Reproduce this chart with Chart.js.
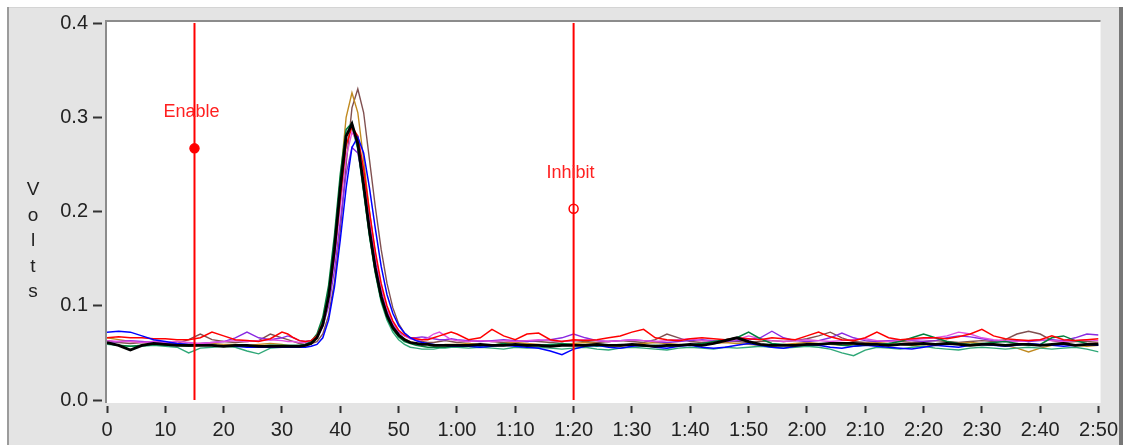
<!DOCTYPE html>
<html>
<head>
<meta charset="utf-8">
<script src="https://cdn.jsdelivr.net/npm/chart.js@4.4.0/dist/chart.umd.min.js"></script>
<style>
  html, body { margin: 0; padding: 0; background: #ffffff; }
  canvas { display: block; }
</style>
</head>
<body>
<canvas id="volts_chart" width="1123" height="445"></canvas>
<script>
// time in seconds, finer steps around the peak
const times = [
    0, 2, 4, 6, 8, 10, 12, 14, 16, 18, 20, 22, 24, 26, 28, 30,
    31, 32, 33, 34, 35, 36, 37, 38, 39, 40, 41, 42, 43, 44, 45, 46, 47, 48, 49, 50,
    51, 52, 53, 54, 55, 56, 57, 58, 59, 60,
    62, 64, 66, 68, 70, 72, 74, 76, 78, 80, 82, 84, 86, 88, 90, 92, 94, 96, 98, 100,
    102, 104, 106, 108, 110, 112, 114, 116, 118, 120, 122, 124, 126, 128, 130, 132, 134, 136, 138, 140,
    142, 144, 146, 148, 150, 152, 154, 156, 158, 160, 162, 164, 166, 168, 170
];

const black = [
    .061, .058, .053, .058, .060, .059, .058, .058, .058, .058, .057, .058, .058, .057, .057, .057,
    .057, .057, .057, .058, .060, .066, .080, .110, .160, .225, .280, .293, .272, .228, .180, .140, .110, .090, .077, .069,
    .064, .061, .060, .059, .059, .058, .058, .058, .058, .058,
    .058, .059, .058, .058, .059, .058, .058, .057, .058, .058, .058, .059, .058, .058, .059, .058, .057, .058, .058, .059,
    .058, .060, .063, .066, .062, .059, .058, .058, .058, .059, .059, .060, .060, .060, .059, .059, .058, .059, .059, .060,
    .059, .060, .059, .058, .059, .059, .058, .059, .059, .058, .059, .060, .058, .059, .059
];
const blue = [
    .072, .073, .072, .068, .064, .062, .060, .059, .058, .058, .057, .057, .056, .056, .056, .056,
    .056, .056, .056, .056, .057, .059, .066, .085, .120, .170, .225, .268, .279, .262, .225, .182, .142, .112, .092, .079,
    .071, .066, .063, .061, .060, .059, .058, .058, .057, .057,
    .057, .056, .057, .058, .057, .056, .055, .052, .048, .054, .057, .058, .056, .055, .057, .058, .056, .055, .057, .058,
    .056, .055, .056, .058, .060, .058, .056, .055, .057, .059, .058, .056, .055, .057, .058, .057, .056, .055, .054, .056,
    .058, .057, .056, .058, .059, .058, .057, .058, .060, .059, .058, .057, .058, .059, .058
];
const red = [
    .066, .067, .066, .066, .065, .065, .064, .064, .066, .072, .068, .064, .063, .062, .065, .072,
    .070, .066, .063, .062, .063, .068, .082, .110, .155, .215, .270, .290, .280, .245, .200, .158, .124, .100, .084, .074,
    .069, .066, .065, .064, .064, .066, .068, .070, .072, .070,
    .064, .066, .075, .068, .064, .070, .071, .064, .062, .064, .063, .064, .066, .068, .072, .075, .066, .064, .063, .065,
    .066, .065, .064, .066, .065, .064, .066, .065, .064, .068, .072, .067, .064, .063, .066, .072, .066, .064, .065, .066,
    .066, .065, .067, .070, .075, .068, .065, .064, .063, .064, .068, .064, .063, .064, .065
];
const green = [
    .060, .058, .057, .058, .059, .058, .058, .057, .058, .058, .057, .058, .057, .057, .058, .058,
    .058, .058, .058, .059, .062, .070, .088, .122, .175, .240, .287, .294, .268, .222, .175, .136, .106, .087, .075, .067,
    .062, .060, .058, .057, .056, .056, .056, .056, .057, .057,
    .058, .057, .058, .060, .058, .057, .058, .059, .060, .059, .058, .057, .058, .059, .058, .057, .058, .057, .058, .059,
    .060, .062, .064, .066, .072, .065, .060, .059, .058, .058, .059, .060, .058, .057, .058, .059, .060, .062, .066, .070,
    .066, .062, .060, .059, .060, .061, .062, .060, .058, .059, .066, .068, .063, .060, .059
];
const teal = [
    .059, .058, .057, .057, .058, .057, .056, .050, .055, .056, .057, .056, .052, .049, .055, .056,
    .056, .056, .057, .058, .061, .068, .085, .118, .170, .234, .280, .289, .266, .220, .173, .134, .104, .085, .072, .064,
    .059, .056, .055, .054, .054, .054, .055, .055, .056, .056,
    .055, .056, .055, .054, .056, .055, .056, .055, .054, .055, .056, .054, .053, .055, .056, .055, .054, .053, .055, .056,
    .055, .054, .056, .055, .056, .057, .056, .055, .056, .057, .056, .054, .050, .047, .053, .056, .055, .054, .056, .057,
    .055, .054, .053, .055, .056, .055, .054, .055, .056, .055, .054, .055, .056, .054, .051
];
const brown = [
    .063, .061, .060, .061, .062, .061, .060, .064, .070, .064, .062, .061, .062, .063, .070, .066,
    .064, .062, .060, .059, .060, .062, .070, .090, .125, .180, .250, .310, .330, .305, .255, .205, .160, .124, .098, .081,
    .071, .066, .063, .062, .061, .061, .062, .063, .062, .061,
    .062, .063, .062, .061, .062, .063, .062, .061, .062, .063, .062, .061, .062, .063, .062, .061, .064, .070, .066, .062,
    .061, .062, .063, .062, .061, .062, .063, .062, .063, .065, .068, .072, .066, .062, .061, .062, .063, .062, .061, .062,
    .063, .062, .061, .062, .063, .062, .064, .070, .073, .070, .063, .061, .062, .062, .061
];
const gold = [
    .066, .064, .062, .061, .060, .060, .059, .059, .060, .060, .059, .059, .058, .059, .060, .059,
    .058, .057, .057, .058, .060, .066, .080, .112, .165, .235, .300, .326, .305, .255, .200, .155, .120, .095, .080, .070,
    .065, .062, .060, .059, .059, .058, .058, .059, .059, .059,
    .060, .059, .058, .060, .061, .060, .059, .058, .059, .060, .061, .060, .058, .057, .059, .060, .061, .060, .059, .058,
    .059, .060, .061, .060, .059, .058, .057, .059, .060, .061, .060, .059, .058, .059, .060, .061, .060, .059, .058, .057,
    .058, .059, .060, .061, .060, .059, .058, .055, .051, .055, .058, .059, .058, .057, .058
];
const purple = [
    .061, .062, .063, .062, .061, .060, .060, .059, .060, .061, .062, .066, .072, .066, .064, .066,
    .068, .066, .063, .062, .063, .067, .078, .100, .138, .190, .240, .268, .262, .230, .188, .148, .116, .094, .080, .072,
    .068, .066, .066, .067, .066, .065, .064, .064, .065, .064,
    .063, .062, .063, .064, .063, .062, .063, .064, .066, .070, .066, .063, .062, .063, .064, .063, .062, .061, .062, .063,
    .064, .063, .062, .063, .064, .066, .073, .066, .063, .062, .063, .066, .071, .066, .063, .062, .063, .064, .063, .062,
    .063, .066, .068, .067, .065, .063, .062, .063, .062, .063, .064, .063, .066, .070, .069
];
const magenta = [
    .063, .062, .062, .061, .062, .061, .062, .061, .060, .061, .062, .063, .062, .063, .064, .063,
    .062, .062, .061, .061, .062, .066, .078, .104, .148, .205, .258, .284, .274, .240, .196, .154, .120, .097, .082, .073,
    .068, .065, .064, .064, .066, .070, .072, .068, .064, .063,
    .062, .063, .062, .063, .062, .063, .064, .063, .062, .063, .064, .063, .062, .063, .064, .063, .062, .063, .064, .065,
    .063, .062, .063, .064, .068, .065, .063, .062, .063, .064, .063, .062, .063, .064, .065, .063, .062, .063, .064, .065,
    .066, .068, .072, .070, .066, .064, .063, .062, .063, .064, .063, .062, .063, .064, .063
];

// cursors
const cursorNames = ["Enable", "Inhibit"];
const cursorTimes = [15, 80];
const cursorLevels = [0.267, 0.203];

const xTickLabels = ["0", "10", "20", "30", "40", "50", "1:00", "1:10", "1:20", "1:30", "1:40", "1:50",
    "2:00", "2:10", "2:20", "2:30", "2:40", "2:50"];
const yTickLabels = ["0.0", "0.1", "0.2", "0.3", "0.4"];
const yTitle = "Volts";

// first series is drawn on top
const traces = [
    { data: black, color: "#000000", width: 2.8 },
    { data: blue, color: "#0000ff", width: 1.5 },
    { data: red, color: "#ff0000", width: 1.5 },
    { data: green, color: "#00803c", width: 1.5 },
    { data: magenta, color: "#e050e0", width: 1.4 },
    { data: purple, color: "#8a2be2", width: 1.4 },
    { data: teal, color: "#30a878", width: 1.4 },
    { data: gold, color: "#c08a20", width: 1.4 },
    { data: brown, color: "#805050", width: 1.4 }
];

const tickFont = { family: "Liberation Sans, Arial, sans-serif", size: 20 };

const cursorSets = cursorTimes.map((t) => ({
    data: [{ x: t, y: 0 }, { x: t, y: 0.4 }],
    borderColor: "#ff0000",
    borderWidth: 2,
    pointRadius: 0
}));

const markerSet = {
    data: cursorTimes.map((t, i) => ({ x: t, y: cursorLevels[i] })),
    showLine: false,
    pointRadius: 4.5,
    pointBorderWidth: 1.5,
    pointBorderColor: "#ff0000",
    pointBackgroundColor: ["#ff0000", "#ffffff"]
};

const traceSets = traces.map((s) => ({
    data: times.map((t, i) => ({ x: t, y: s.data[i] })),
    borderColor: s.color,
    borderWidth: s.width,
    pointRadius: 0,
    tension: 0
}));

const panel = {
    id: "panel",
    beforeDraw(chart) {
        const ctx = chart.ctx;
        const a = chart.chartArea;
        ctx.save();
        ctx.fillStyle = "#ffffff";
        ctx.fillRect(0, 0, chart.width, chart.height);
        ctx.fillStyle = "#e4e4e4";
        ctx.fillRect(7, 7, 1116, 438);
        ctx.fillStyle = "#d4d4d4";
        ctx.fillRect(7, 7, 1116, 1);
        ctx.fillStyle = "#9c9c9c";
        ctx.fillRect(7, 7, 2, 438);
        ctx.fillStyle = "#777777";
        ctx.fillRect(1119, 7, 4, 438);
        ctx.fillStyle = "#ffffff";
        ctx.fillRect(a.left - 1, a.top - 2, a.width + 3, a.height + 5);
        ctx.fillStyle = "#8c8c8c";
        ctx.fillRect(a.left - 2, a.top - 3, a.width + 4, 2);
        ctx.fillRect(a.left - 2, a.top - 3, 2, a.height + 6);
        ctx.restore();
    },
    afterDatasetsDraw(chart) {
        const ctx = chart.ctx;
        const x = chart.scales.x, y = chart.scales.y;
        ctx.save();
        ctx.fillStyle = "#ff2020";
        ctx.font = "18px Liberation Sans, Arial, sans-serif";
        ctx.textAlign = "center";
        ctx.textBaseline = "middle";
        cursorNames.forEach((name, i) => {
            ctx.fillText(name, x.getPixelForValue(cursorTimes[i]) - 3, y.getPixelForValue(cursorLevels[i]) - 36);
        });
        ctx.fillStyle = "#222222";
        ctx.font = "19px Liberation Sans, Arial, sans-serif";
        yTitle.split("").forEach((ch, i) => {
            ctx.fillText(ch, 33, 190 + i * 25.5);
        });
        ctx.restore();
    }
};

const voltsChart = new Chart(document.getElementById("volts_chart"), {
    type: "line",
    data: {
        datasets: [...cursorSets, markerSet, ...traceSets]
    },
    options: {
        responsive: false,
        animation: false,
        devicePixelRatio: 1,
        layout: { padding: { top: 23, right: 24, left: 0, bottom: 0 } },
        plugins: { legend: { display: false }, tooltip: { enabled: false } },
        scales: {
            x: {
                type: "linear",
                min: 0,
                max: 170,
                afterFit: (s) => { s.height = 45; },
                border: { display: false },
                grid: {
                    drawOnChartArea: false,
                    tickLength: 13,
                    tickWidth: 2,
                    tickColor: "#333333",
                    tickBorderDash: [0, 6, 7, 100]
                },
                ticks: {
                    stepSize: 10,
                    autoSkip: false,
                    maxRotation: 0,
                    padding: 5,
                    color: "#222222",
                    font: tickFont,
                    callback: (v) => xTickLabels[Math.round(v / 10)]
                }
            },
            y: {
                min: 0,
                max: 0.4,
                afterFit: (s) => { s.width = 107; },
                border: { display: false },
                grid: {
                    drawOnChartArea: false,
                    tickLength: 14,
                    tickWidth: 2,
                    tickColor: "#333333",
                    tickBorderDash: [9, 100]
                },
                ticks: {
                    stepSize: 0.1,
                    padding: 5,
                    color: "#222222",
                    font: tickFont,
                    callback: (v) => yTickLabels[Math.round(v * 10)]
                }
            }
        }
    },
    plugins: [panel]
});
</script>
</body>
</html>
